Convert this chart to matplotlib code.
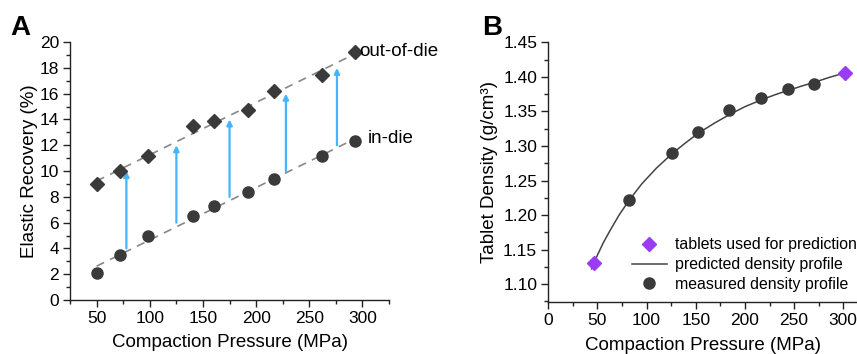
import numpy as np
import matplotlib
matplotlib.use("Agg")
import matplotlib.pyplot as plt
from matplotlib.ticker import MultipleLocator

plt.rcParams['font.family'] = ['Liberation Sans', 'DejaVu Sans']

# panel A: elastic recovery
pressure_a = [50, 72, 98, 141, 160, 192, 217, 262, 293]
out_of_die = [9.0, 10.0, 11.2, 13.5, 13.85, 14.7, 16.2, 17.45, 19.2]
in_die = [2.1, 3.5, 4.95, 6.55, 7.3, 8.4, 9.4, 11.2, 12.3]
arrow_x = [78, 125, 175, 228, 276]
arrow_lo = [4, 6, 8, 10, 12]
arrow_hi = [10, 12, 14, 16, 18]

# panel B: tablet density
pressure_meas = [82, 126, 152, 184, 216, 244, 270]
density_meas = [1.222, 1.290, 1.320, 1.352, 1.370, 1.383, 1.390]
pressure_pred = [46, 302]
density_pred = [1.131, 1.406]
curve_x = [44, 50, 56, 63, 72, 82, 95, 110, 126, 140, 153, 170, 185, 200,
           217, 232, 245, 258, 270, 286, 302]
curve_y = [1.122, 1.142, 1.160, 1.178, 1.200, 1.221, 1.245, 1.268, 1.289,
           1.305, 1.319, 1.334, 1.346, 1.357, 1.367, 1.375, 1.381, 1.387,
           1.392, 1.3995, 1.406]

dark = '#3a3a3a'
blue = '#45b4ff'
purple = '#9b3cf5'

fig = plt.figure(figsize=(8.57, 3.54), dpi=100)
axA = fig.add_axes([0.0817, 0.1525, 0.3723, 0.7285])
axB = fig.add_axes([0.6398, 0.146, 0.3602, 0.734])


def style(ax):
    for s in ['top', 'right']:
        ax.spines[s].set_visible(False)
    for s in ['left', 'bottom']:
        ax.spines[s].set_color('#222222')
        ax.spines[s].set_linewidth(1.0)
    ax.tick_params(which='major', length=5, width=1, labelsize=12.5, color='#222222', pad=3)
    ax.tick_params(which='minor', length=3, width=1, color='#222222')


# ---- A ----
style(axA)
xa = np.array(pressure_a)
fit_x = np.array([xa[0], xa[-1]])
for ys in (out_of_die, in_die):
    p = np.polyfit(xa, ys, 1)
    axA.plot(fit_x, np.polyval(p, fit_x), ls=(0, (5, 4)), color='#888888', lw=1.2, zorder=1)
for x, y0, y1 in zip(arrow_x, arrow_lo, arrow_hi):
    axA.annotate('', xy=(x, y1), xytext=(x, y0),
                 arrowprops=dict(arrowstyle='-|>', color=blue, lw=1.6,
                                 mutation_scale=8, shrinkA=0, shrinkB=0))
axA.plot(pressure_a, out_of_die, 'D', color=dark, ms=7.5, zorder=3)
axA.plot(pressure_a, in_die, 'o', color=dark, ms=8, zorder=3)
axA.text(pressure_a[-1] + 4, out_of_die[-1] + 0.1, 'out-of-die', fontsize=13.5,
         va='center', ha='left', clip_on=False)
axA.text(pressure_a[-1] + 12, in_die[-1] + 0.2, 'in-die', fontsize=13.5,
         va='center', ha='left', clip_on=False)
axA.set_xlim(25, 325)
axA.set_ylim(0, 20)
axA.xaxis.set_major_locator(MultipleLocator(50))
axA.xaxis.set_minor_locator(MultipleLocator(25))
axA.yaxis.set_major_locator(MultipleLocator(2))
axA.yaxis.set_minor_locator(MultipleLocator(1))
axA.set_xlabel('Compaction Pressure (MPa)', fontsize=13.5, labelpad=6)
axA.set_ylabel('Elastic Recovery (%)', fontsize=13.5, labelpad=1)

# ---- B ----
style(axB)
axB.plot(curve_x, curve_y, '-', color='#444444', lw=1.1, zorder=1,
         label='predicted density profile')
axB.plot(pressure_pred, density_pred, 'D', color=purple, ms=7.5, zorder=3,
         label='tablets used for prediction', clip_on=False)
axB.plot(pressure_meas, density_meas, 'o', color=dark, ms=8, zorder=3,
         label='measured density profile')
axB.set_xlim(0, 314)
axB.set_ylim(1.0735, 1.45)
axB.xaxis.set_major_locator(MultipleLocator(50))
axB.xaxis.set_minor_locator(MultipleLocator(25))
axB.yaxis.set_major_locator(MultipleLocator(0.05))
axB.yaxis.set_minor_locator(MultipleLocator(0.025))
axB.yaxis.set_major_formatter(matplotlib.ticker.FormatStrFormatter('%.2f'))
axB.set_xlabel('Compaction Pressure (MPa)', fontsize=13.5, labelpad=6)
axB.set_ylabel('Tablet Density (g/cm³)', fontsize=13.5)
h, l = axB.get_legend_handles_labels()
order = [1, 0, 2]
axB.legend([h[i] for i in order], [l[i] for i in order], loc='lower right',
           bbox_to_anchor=(1.045, -0.015), frameon=False, fontsize=11.4,
           handlelength=2.2, handletextpad=0.5, labelspacing=0.3)

fig.text(0.012, 0.9, 'A', fontsize=20, fontweight='bold')
fig.text(0.563, 0.9, 'B', fontsize=20, fontweight='bold')

fig.savefig('out.png', dpi=100)
